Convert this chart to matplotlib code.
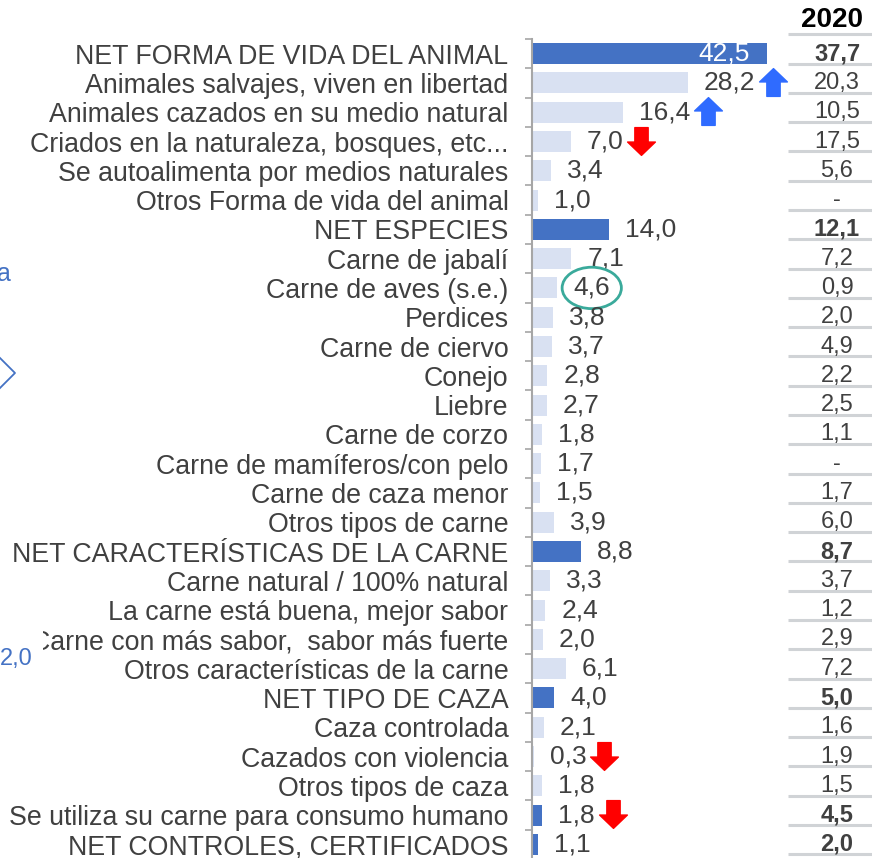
import matplotlib
matplotlib.use('Agg')
import matplotlib.pyplot as plt
from matplotlib.path import Path
from matplotlib.lines import Line2D
from matplotlib.transforms import Bbox
import numpy as np

plt.rcParams['font.family'] = ['Liberation Sans', 'DejaVu Sans']

labels = ['NET FORMA DE VIDA DEL ANIMAL', 'Animales salvajes, viven en libertad',
          'Animales cazados en su medio natural', 'Criados en la naturaleza, bosques, etc...',
          'Se autoalimenta por medios naturales', 'Otros Forma de vida del animal',
          'NET ESPECIES', 'Carne de jabalí', 'Carne de aves (s.e.)', 'Perdices',
          'Carne de ciervo', 'Conejo', 'Liebre', 'Carne de corzo',
          'Carne de mamíferos/con pelo', 'Carne de caza menor', 'Otros tipos de carne',
          'NET CARACTERÍSTICAS DE LA CARNE', 'Carne natural / 100% natural',
          'La carne está buena, mejor sabor', 'Carne con más sabor,  sabor más fuerte',
          'Otros características de la carne', 'NET TIPO DE CAZA', 'Caza controlada',
          'Cazados con violencia', 'Otros tipos de caza',
          'Se utiliza su carne para consumo humano', 'NET CONTROLES, CERTIFICADOS']
values = [42.5, 28.2, 16.4, 7.0, 3.4, 1.0, 14.0, 7.1, 4.6, 3.8, 3.7, 2.8, 2.7, 1.8,
          1.7, 1.5, 3.9, 8.8, 3.3, 2.4, 2.0, 6.1, 4.0, 2.1, 0.3, 1.8, 1.8, 1.1]
values_2020 = ['37,7', '20,3', '10,5', '17,5', '5,6', '-', '12,1', '7,2', '0,9', '2,0',
               '4,9', '2,2', '2,5', '1,1', '-', '1,7', '6,0', '8,7', '3,7', '1,2', '2,9',
               '7,2', '5,0', '1,6', '1,9', '1,5', '4,5', '2,0']
net_rows = [0, 6, 17, 22, 26, 27]
arrows_up = [1, 2]
arrows_down = [3, 24, 26]
circled = [8]

dark = '#4472C4'
light = '#D9E1F2'
txt = '#404040'

fig = plt.figure(figsize=(8.72, 8.58), dpi=100)
W, H = 872, 858
ax = fig.add_axes([532 / W, 1 - 859 / H, 340 / W, 820 / H])
n = len(labels)
y = np.arange(n)
colors = [dark if i in net_rows else light for i in range(n)]
ax.barh(y, values, height=0.72, color=colors)
ax.set_xlim(0, 340 / 5.53)
ax.set_ylim(n - 0.5, -0.5)

for s in ['top', 'right', 'bottom']:
    ax.spines[s].set_visible(False)
ax.spines['left'].set_color('#a6a6a6')
ax.spines['left'].set_linewidth(1.5)
ax.set_xticks([])
ax.set_yticks(y)
ax.set_yticklabels(labels, fontsize=19.3, color=txt)
ax.tick_params(axis='y', which='major', length=0, pad=17)
ax.set_yticks(np.arange(n + 1) - 0.5, minor=True)
ax.tick_params(axis='y', which='minor', length=5, width=1.2, color='#a6a6a6')

# the long label is cut by its text box in the original
lab20 = ax.get_yticklabels()[20]
lab20.set_clip_box(Bbox([[43, 0], [W, H]]))
lab20.set_clip_on(True)

px = 1 / 5.53  # data units per pixel
val_texts = {}
for i, v in enumerate(values):
    s = f'{v:.1f}'.replace('.', ',')
    if i == 0:
        t = ax.text(v - 17 * px, i, s, ha='right', va='center', fontsize=19, color='white')
    elif i in circled:
        t = ax.text(v + 16 * px, i, s, ha='left', va='center', fontsize=19, color=txt,
                    bbox=dict(boxstyle='ellipse,pad=0.1', fc='none', ec='#3AAA9B', lw=2))
    else:
        t = ax.text(v + 16 * px, i, s, ha='left', va='center', fontsize=19, color=txt)
    val_texts[i] = t

# 2020 table
tr = ax.get_yaxis_transform()
x0, x1 = (788 - 532) / 340, 1.0
xc = (837 - 532) / 340
for k in range(n + 1):
    ax.plot([x0, x1], [k - 0.66, k - 0.66], transform=tr, color='#D0D3D6', lw=2.2,
            clip_on=False, solid_capstyle='butt')
for i, s in enumerate(values_2020):
    ax.text(xc, i, s, transform=tr, ha='center', va='center', fontsize=17,
            color=txt, fontweight='bold' if i in net_rows else 'normal')
fig.text(832 / W, 1 - 20 / H, '2020', ha='center', va='center', fontsize=20,
         fontweight='bold', color='black')

# arrows
up = Path([(-0.24, -0.5), (0.24, -0.5), (0.24, 0.02), (0.5, 0.02), (0, 0.5),
           (-0.5, 0.02), (-0.24, 0.02), (-0.24, -0.5)], closed=True)
down = Path([(xx, -yy) for xx, yy in up.vertices], closed=True)
fig.canvas.draw()
r = fig.canvas.get_renderer()
inv = ax.transData.inverted()
for rows, mk, col in [(arrows_up, up, '#2F6BFF'), (arrows_down, down, '#FF0000')]:
    for i in rows:
        bb = val_texts[i].get_window_extent(r)
        disp_y = ax.transData.transform((0, i))[1]
        xd, yd = inv.transform((bb.x1 + 18, disp_y + 1))
        ax.plot([xd], [yd], marker=mk, ms=20, color=col, mec=col, clip_on=False)

# cropped remnants at the left border
fig.text(-3 / W, 1 - 274 / H, 'a', ha='left', va='center', fontsize=18, color=dark)
fig.text(0, 1 - 659 / H, '2,0', ha='left', va='center', fontsize=17, color=dark)
fig.add_artist(Line2D([0, 15 / W, 0], [1 - 358 / H, 1 - 373 / H, 1 - 388 / H],
                      transform=fig.transFigure, color=dark, lw=1.3))

fig.savefig('out.png', dpi=100)
